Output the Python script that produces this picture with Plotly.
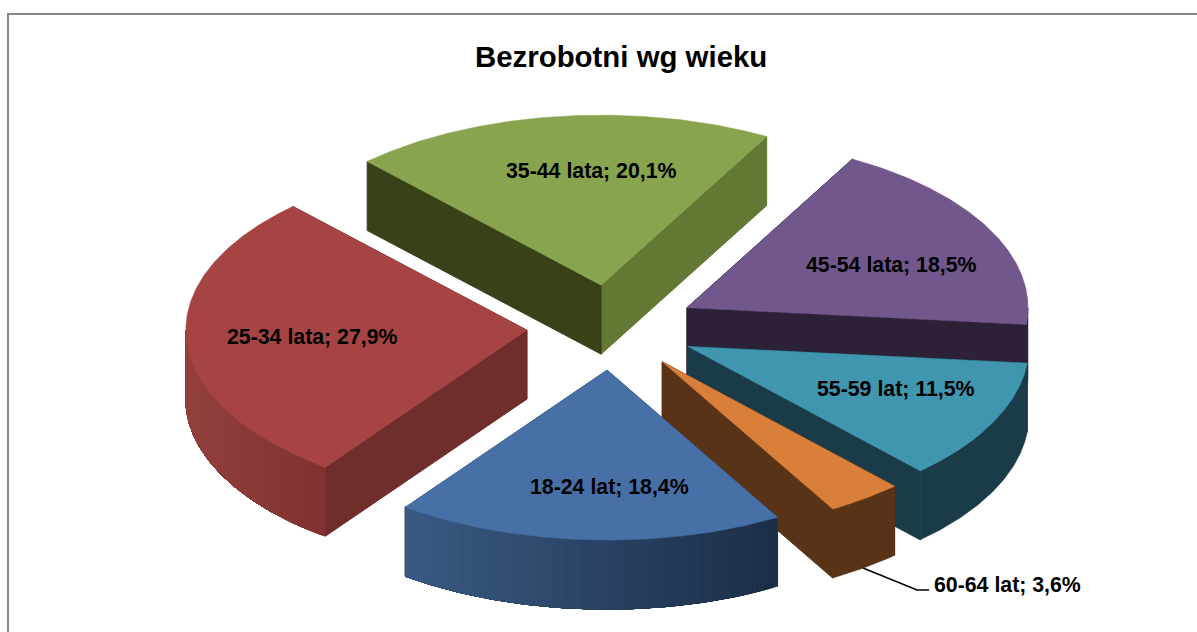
import numpy as np
import plotly.graph_objects as go

# ---- data (as printed on the chart, in drawing order around the pie)
categories = ["18-24 lat", "25-34 lata", "35-44 lata", "45-54 lata", "55-59 lat", "60-64 lat"]
shares = [18.4, 27.9, 20.1, 18.5, 11.5, 3.6]
value_text = ["18,4%", "27,9%", "20,1%", "18,5%", "11,5%", "3,6%"]
chart_title = "Bezrobotni wg wieku"

# ---- styling / projection of the 3-D pie
W, H = 1197, 632
CX, CY = 611.7, 327.5          # pie centre in the picture
RX, RY = 341.0, 170.0          # projected radius
EX, EY = 85.0, 42.7            # explosion offset
DEPTH = 69.0                   # wall height
START = 60.0                   # first slice start, clockwise from the +x direction

top_col = ["#4670A6", "#A54442", "#89A44E", "#71578C", "#4095AF", "#D97F3A"]
wall_a = ["#2E4A6E", "#6F2D2B", "#374219", "#2C2137", "#1A3C49", "#583318"]  # face at slice start
wall_b = ["#2E4A6E", "#6F2D2B", "#627834", "#2C2137", "#1A3C49", "#583318"]  # face at slice end
rim_from = ["#1B2E47", "#813331", "#627834", "#2C2137", "#1A3C49", "#583318"]  # colour at low angle (right)
rim_to = ["#3A5A83", "#93413E", "#627834", "#2C2137", "#1A3C49", "#583318"]    # colour at high angle (left)
draw_order = [2, 1, 3, 4, 5, 0]
label_pos = {0: (609, 487), 1: (312, 337), 2: (591.5, 171), 3: (891, 265), 4: (896, 389), 5: (1007, 585)}
leader_x = [863, 917, 929]
leader_y = [568, 590, 590]
BANDS = 90


def hex2rgb(c):
    return np.array([int(c[i:i + 2], 16) for i in (1, 3, 5)], dtype=float)


def mix(a, b, t):
    v = hex2rgb(a) * (1 - t) + hex2rgb(b) * t
    return "rgb(%d,%d,%d)" % tuple(v.round())


def poly(fig, x, y, color, lw=1.0):
    x, y = list(x), list(y)
    fig.add_trace(go.Scatter(x=x + x[:1], y=y + y[:1], mode="lines", fill="toself",
                             fillcolor=color, line=dict(color=color, width=lw),
                             hoverinfo="skip", showlegend=False))


fig = go.Figure()

total = sum(shares)
edges = START + np.concatenate([[0], np.cumsum(shares)]) * 360.0 / total

for i in draw_order:
    a, b = edges[i], edges[i + 1]
    mid = np.radians((a + b) / 2)
    ax, ay = CX + EX * np.cos(mid), CY + EY * np.sin(mid)

    def rim(t):
        t = np.radians(t)
        return ax + RX * np.cos(t), ay + RY * np.sin(t)

    # radial cut faces: back one first, front one over it
    faces = sorted(((rim(a), wall_a[i]), (rim(b), wall_b[i])), key=lambda f: f[0][1])
    for (rx, ry), col in faces:
        poly(fig, [ax, rx, rx, ax], [ay, ry, ry + DEPTH, ay + DEPTH], col)

    # outer curved wall: only the front half of the ellipse is visible
    for lo, hi in ((0, 180), (360, 540)):
        s, e = max(a, lo), min(b, hi)
        if e <= s:
            continue
        flat = rim_from[i] == rim_to[i]
        n = 1 if flat else BANDS
        x_s = np.cos(np.radians(s))
        x_e = np.cos(np.radians(e))
        for k in range(n):
            # bands are even in screen x; each reaches the arc's end and the next paints over it
            c0 = x_s + (x_e - x_s) * k / n
            s0 = np.degrees(np.arccos(np.clip(c0, -1, 1)))
            if lo == 360:
                s0 = s
            seg = np.linspace(s0, e, 100)
            xs, ys = rim(seg)
            poly(fig, list(xs) + list(xs[::-1]), list(ys) + list((ys + DEPTH)[::-1]),
                 mix(rim_from[i], rim_to[i], (k + 0.5) / n), lw=0.5)

    # top face
    xs, ys = rim(np.linspace(a, b, 160))
    poly(fig, [ax] + list(xs), [ay] + list(ys), top_col[i], lw=0.5)

# leader line of the small slice
fig.add_trace(go.Scatter(x=leader_x, y=leader_y, mode="lines",
                         line=dict(color="#000000", width=1.5),
                         hoverinfo="skip", showlegend=False))

# data labels
for i, cat in enumerate(categories):
    lx, ly = label_pos[i]
    fig.add_annotation(x=lx, y=ly, xref="x", yref="y", text=f"<b>{cat}; {value_text[i]}</b>",
                       showarrow=False, xanchor="center", yanchor="middle",
                       font=dict(family="Liberation Sans", size=21.3, color="#000000"))

fig.add_annotation(x=621, y=56, xref="x", yref="y", text=f"<b>{chart_title}</b>", showarrow=False,
                   xanchor="center", yanchor="middle",
                   font=dict(family="Liberation Sans", size=29.4, color="#000000"))

# chart frame (top and left edges are what is visible in the crop)
fig.add_shape(type="line", x0=8, x1=8, y0=14, y1=H, xref="x", yref="y", line=dict(color="#868686", width=2))
fig.add_shape(type="line", x0=7, x1=W, y0=14, y1=14, xref="x", yref="y", line=dict(color="#868686", width=2))

fig.update_layout(width=W, height=H, margin=dict(l=0, r=0, t=0, b=0),
                  paper_bgcolor="white", plot_bgcolor="white", showlegend=False,
                  xaxis=dict(range=[0, W], visible=False, fixedrange=True),
                  yaxis=dict(range=[H, 0], visible=False, fixedrange=True))

fig.write_html("out.html", config={"displayModeBar": False},
               post_script="document.body.style.margin='0';document.body.style.overflow='hidden';")
